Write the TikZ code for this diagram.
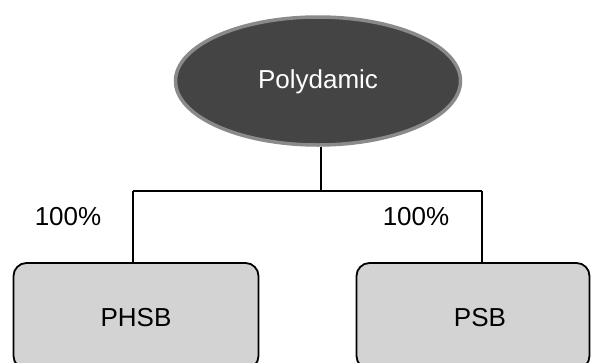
\documentclass[tikz,border=0pt]{standalone}
\usepackage{fontspec}
\setmainfont{Liberation Sans}
\usetikzlibrary{shapes.geometric}
\definecolor{ellfill}{HTML}{444444}
\definecolor{ellline}{HTML}{8A8A8A}
\definecolor{boxfill}{HTML}{D3D3D3}
\tikzset{
  txt/.style={font=\fontsize{26}{31}\selectfont, inner sep=0pt},
  topnode/.style={ellipse, fill=ellfill, draw=ellline, line width=3.5pt, text=white,
    minimum width=285pt, minimum height=128pt, inner sep=0pt},
  boxnode/.style={rectangle, rounded corners=13pt, fill=boxfill, draw=black, line width=1.8pt, inner sep=0pt},
  conn/.style={draw=black, line width=1.2pt}
}
\begin{document}
\begin{tikzpicture}[x=1pt,y=-1pt]
\useasboundingbox (0,0) rectangle (592,362);
\node[topnode] (top) at (318,81) {};
\node[txt, text=white] (toptext) at (318,82) {Polydamic};
\node[boxnode, minimum width=245pt, minimum height=106pt] (lbox) at (136,316) {};
\node[boxnode, minimum width=233pt, minimum height=106pt] (rbox) at (473,316) {};
\node[txt] (ltext) at (136,318) {PHSB};
\node[txt] (rtext) at (480,318) {PSB};
\node[txt] (lpct) at (68,217) {100\%};
\node[txt] (rpct) at (416,217) {100\%};
\coordinate (j) at (321,191);
\coordinate (lj) at (133,191);
\coordinate (rj) at (482,191);
\draw[conn] (top.south -| j) -- (j);
\draw[conn] (lj) -- (rj);
\draw[conn] (lj) -- (lj |- lbox.north);
\draw[conn] (rj) -- (rj |- rbox.north);
\end{tikzpicture}
\end{document}
